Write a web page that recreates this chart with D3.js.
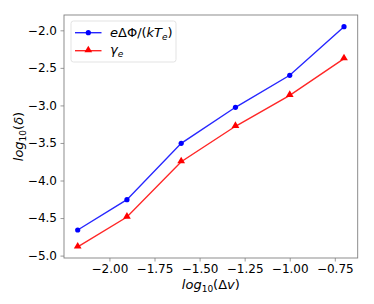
<!DOCTYPE html>
<html><head><meta charset="utf-8">
<script src="https://cdn.jsdelivr.net/npm/d3@7"></script>
<style>body{margin:0;background:#fff}svg{display:block}text{font-family:"DejaVu Sans",sans-serif}</style>
</head><body>
<svg id="c" width="374" height="304"></svg>
<script>
const xVals = [-2.176, -1.903, -1.602, -1.301, -1.0, -0.699];
const potential = [-4.659, -4.255, -3.505, -3.025, -2.599, -1.952];
const gammaE = [-4.885, -4.486, -3.750, -3.278, -2.866, -2.378];
const xTicks = [-2.00, -1.75, -1.50, -1.25, -1.00, -0.75];
const yTicks = [-5.0, -4.5, -4.0, -3.5, -3.0, -2.5, -2.0];

const svg = d3.select("#c");
const L = 64, R = 357.7, T = 15, B = 258;
const x = d3.scaleLinear().domain([-2.252, -0.623]).range([L, R]);
const y = d3.scaleLinear().domain([-5.032, -1.796]).range([B, T]);
const fmtMinus = s => s.replace("-", "\u2212");

const xa = svg.append("g").attr("transform", `translate(0,${B})`)
  .call(d3.axisBottom(x).tickValues(xTicks).tickSize(3.5).tickPadding(3)
    .tickFormat(d => fmtMinus(d3.format(".2f")(d))));
const ya = svg.append("g").attr("transform", `translate(${L},0)`)
  .call(d3.axisLeft(y).tickValues(yTicks).tickSize(3.5).tickPadding(3.5)
    .tickFormat(d => fmtMinus(d3.format(".1f")(d))));
[xa, ya].forEach(a => {
  a.select(".domain").remove();
  a.selectAll("line").attr("stroke", "#808080").attr("stroke-width", 0.8);
  a.selectAll("text").attr("font-size", 12).attr("fill", "#000").attr("font-family", "DejaVu Sans");
});
svg.append("rect").attr("x", L).attr("y", T).attr("width", R - L).attr("height", B - T)
  .attr("fill", "none").attr("stroke", "#808080").attr("stroke-width", 0.9);

const line = d3.line().x(d => x(d[0])).y(d => y(d[1]));
const series = [
  {vals: potential, color: "blue", marker: "circle"},
  {vals: gammaE, color: "red", marker: "triangle"}
];
const tri = d3.symbol().type(d3.symbolTriangle).size(26);
series.forEach(s => {
  const pts = xVals.map((v, i) => [v, s.vals[i]]);
  svg.append("path").attr("d", line(pts)).attr("fill", "none")
    .attr("stroke", s.color).attr("stroke-width", 1.4).attr("opacity", 0.85);
  pts.forEach(p => {
    if (s.marker === "circle")
      svg.append("circle").attr("cx", x(p[0])).attr("cy", y(p[1])).attr("r", 2.6).attr("fill", s.color);
    else
      svg.append("path").attr("d", tri()).attr("transform", `translate(${x(p[0])},${y(p[1]) - 0.6})`).attr("fill", s.color);
  });
});

// axis labels
const xl = svg.append("text").attr("x", (L + R) / 2).attr("y", 289).attr("text-anchor", "middle").attr("font-size", 13);
xl.append("tspan").attr("font-style", "italic").text("log");
xl.append("tspan").attr("font-size", 9).attr("dy", 3).text("10");
xl.append("tspan").attr("dy", -3).text("(Δ");
xl.append("tspan").attr("font-style", "italic").text("v");
xl.append("tspan").text(")");

const yl = svg.append("text").attr("transform", `translate(23,${(T + B) / 2}) rotate(-90)`).attr("text-anchor", "middle").attr("font-size", 13);
yl.append("tspan").attr("font-style", "italic").text("log");
yl.append("tspan").attr("font-size", 9).attr("dy", 3).text("10");
yl.append("tspan").attr("dy", -3).text("(");
yl.append("tspan").attr("font-style", "italic").text("δ");
yl.append("tspan").text(")");

// legend
const lg = svg.append("g");
lg.append("rect").attr("x", 71).attr("y", 21).attr("width", 105).attr("height", 41).attr("rx", 2.5)
  .attr("fill", "#fff").attr("fill-opacity", 0.8).attr("stroke", "#dcdcdc").attr("stroke-width", 0.8);
const rows = [
  {yy: 32.7, color: "blue", marker: "circle"},
  {yy: 50.7, color: "red", marker: "triangle"}
];
rows.forEach(r => {
  lg.append("line").attr("x1", 75).attr("x2", 101.5).attr("y1", r.yy).attr("y2", r.yy)
    .attr("stroke", r.color).attr("stroke-width", 1.4).attr("opacity", 0.85);
  if (r.marker === "circle") lg.append("circle").attr("cx", 88.3).attr("cy", r.yy).attr("r", 2.6).attr("fill", r.color);
  else lg.append("path").attr("d", tri()).attr("transform", `translate(88.3,${r.yy - 0.6})`).attr("fill", r.color);
});
const t1 = lg.append("text").attr("x", 110).attr("y", 37.3).attr("font-size", 13);
t1.append("tspan").attr("font-style", "italic").text("e");
t1.append("tspan").text("ΔΦ/(");
t1.append("tspan").attr("font-style", "italic").text("kT");
t1.append("tspan").attr("font-style", "italic").attr("font-size", 9).attr("dy", 3).text("e");
t1.append("tspan").attr("dy", -3).text(")");
const t2 = lg.append("text").attr("x", 110).attr("y", 54.3).attr("font-size", 13);
t2.append("tspan").attr("font-style", "italic").text("γ");
t2.append("tspan").attr("font-style", "italic").attr("font-size", 9).attr("dy", 3).text("e");
</script>
</body></html>
